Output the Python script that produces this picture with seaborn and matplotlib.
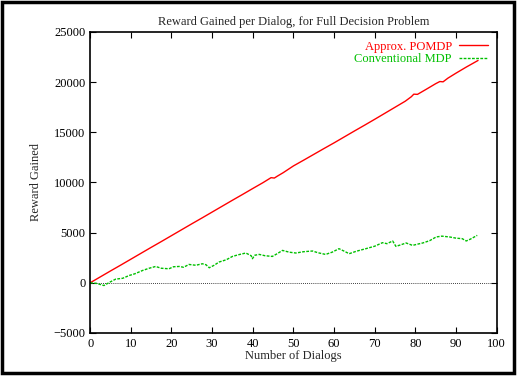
import matplotlib
matplotlib.use("Agg")
import matplotlib.pyplot as plt
import seaborn as sns
import pandas as pd
from matplotlib.patches import Rectangle

# Approx. POMDP cumulative reward
pomdp_x = [0, 2.5, 5, 7.5, 10, 12.5, 15, 17.5, 20, 22.5, 25, 27.5, 30, 32.5, 35, 37.5, 40,
           42.5, 44.5, 45.3, 46, 47.5, 50, 52.5, 55, 57.5, 60, 62.5, 65, 67.5, 70, 72.5,
           75, 77.5, 79, 79.6, 80.5, 82.5, 85, 86, 86.8, 88, 90, 92.5, 95.4]
pomdp_y = [0, 590, 1180, 1760, 2350, 2940, 3530, 4110, 4700, 5290, 5880, 6460, 7050, 7640,
           8230, 8810, 9400, 9980, 10480, 10440, 10620, 10980, 11650, 12220, 12800, 13380,
           13950, 14540, 15130, 15710, 16300, 16900, 17500, 18100, 18550, 18800, 18780,
           19250, 19850, 20060, 20030, 20400, 20900, 21500, 22160]

# Conventional MDP cumulative reward
mdp_x = [0, 1.5, 3.4, 5, 6.3, 8, 9.6, 11, 12.9, 14.5, 16.1, 17.5, 19.4, 20.5, 21.9, 23,
         24.3, 26, 27.6, 28.5, 29.3, 30.5, 31.7, 33.5, 35, 36.5, 38.3, 39.6, 39.9, 40.5,
         41.6, 43, 44.8, 46, 47.3, 49, 50.6, 52.5, 54.7, 56, 57.9, 59.5, 61.2, 62.5, 63.7,
         65.5, 67.8, 70, 71.9, 73, 74.4, 75.2, 76.5, 77.7, 79.3, 80.5, 81.8, 83.5, 85.1,
         86.5, 88.4, 90, 91.5, 92.5, 93.5, 95.2]
mdp_y = [0, -50, -270, 100, 370, 450, 730, 900, 1230, 1450, 1630, 1450, 1400, 1600, 1630,
         1550, 1830, 1750, 1900, 1800, 1500, 1750, 2070, 2300, 2630, 2800, 2970, 2700, 2400,
         2750, 2830, 2700, 2630, 2900, 3230, 3050, 2970, 3100, 3170, 3000, 2830, 3050, 3400,
         3150, 2900, 3150, 3400, 3650, 4000, 3900, 4170, 3630, 3800, 3970, 3730, 3850, 3970,
         4200, 4570, 4650, 4570, 4450, 4400, 4170, 4350, 4730]

pomdp = pd.DataFrame({"dialogs": pomdp_x, "reward": pomdp_y})
mdp = pd.DataFrame({"dialogs": mdp_x, "reward": mdp_y})

sns.set_style("ticks")
plt.rcParams["font.family"] = ["Liberation Serif", "DejaVu Serif"]
plt.rcParams["font.size"] = 9

fig = plt.figure(figsize=(5.24, 3.76), dpi=100)
ax = fig.add_axes([0.172, 0.1144, 0.776, 0.8006])

sns.lineplot(data=pomdp, x="dialogs", y="reward", ax=ax, color="#ff0000",
             linewidth=1.0, label="Approx. POMDP")
sns.lineplot(data=mdp, x="dialogs", y="reward", ax=ax, color="#00c000",
             linewidth=1.0, linestyle=(0, (2, 1)), label="Conventional MDP")

ax.axhline(0, color="black", linewidth=0.6, linestyle=(0, (1, 1.5)), zorder=0)

ax.set_xlim(0, 100)
ax.set_ylim(-5000, 25000)
ax.set_xticks(range(0, 101, 10))
ax.set_yticks(range(-5000, 25001, 5000))
ax.tick_params(direction="in", top=True, right=True, length=4, width=0.8,
               labelsize=9, colors="black")
for s in ax.spines.values():
    s.set_linewidth(1.2)
    s.set_color("black")

ax.set_title("Reward Gained per Dialog, for Full Decision Problem", fontsize=9, pad=5)
ax.set_xlabel("Number of Dialogs", fontsize=9, labelpad=0)
ax.set_ylabel("Reward Gained", fontsize=9, labelpad=8)

leg = ax.legend(loc="upper right", frameon=False, markerfirst=False, labelcolor="linecolor",
                fontsize=9, handlelength=2.3, borderaxespad=0.3, labelspacing=0.05,
                handletextpad=0.6)

fig.patches.append(Rectangle((0.003, 0.008), 0.978, 0.988, transform=fig.transFigure,
                             fill=False, edgecolor="black", linewidth=2.5))

fig.savefig("out.png", dpi=100)
